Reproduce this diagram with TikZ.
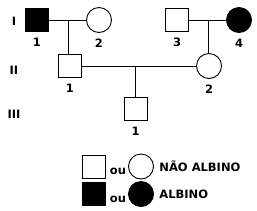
\documentclass[tikz,border=0pt]{standalone}
\usepackage{fontspec}
\setmainfont{DejaVu Sans}
\usetikzlibrary{calc}
\tikzset{
  male/.style={draw,rectangle,minimum size=23pt,inner sep=0pt},
  female/.style={draw,circle,minimum size=25pt,inner sep=0pt},
  ill/.style={fill=black},
  num/.style={label={[label distance=2.5pt]below:#1}}
}
\begin{document}
\begin{tikzpicture}[x=1pt,y=-1pt,line width=0.9pt,
    font=\fontsize{11.5}{13}\selectfont\bfseries]
   \useasboundingbox (0,0) rectangle (257,210);
   % generation I
   \node[male,ill,num=1]   (i1) at (37,20) {};
   \node[female,num=2]     (i2) at (99,20) {};
   \node[male,num=3]       (i3) at (177,20) {};
   \node[female,ill,num=4] (i4) at (239,20) {};
   % generation II
   \node[male,num=1]   (ii1) at (70,66) {};
   \node[female,num=2] (ii2) at (209,66) {};
   % generation III
   \node[male,num=1] (iii1) at (135.5,109) {};
   % couples and descents
   \coordinate (m1) at ($(i1)!0.5!(i2)$);
   \coordinate (m2) at ($(i3)!0.5!(i4)$);
   \coordinate (m3) at (iii1 |- ii1);
   \draw (i1) -- (i2);
   \draw (i3) -- (i4);
   \draw (ii1) -- (ii2);
   \draw (m1) -- (m1 |- ii1.north);
   \draw (m2) -- (m2 |- ii2.north);
   \draw (m3) -- (iii1.north);
   % generation numbers
   \foreach \y/\g in {21/I,70/II,114/III}
     \node (g\g) at (14,\y) {\g};
   % legend
   \node[male]           (lm) at (93.5,166.5) {};
   \node[female]         (lf) at (141,166.5) {};
   \node[male,ill]       (am) at (93.5,194) {};
   \node[female,ill]     (af) at (141,194) {};
   \node (ou1) at (118,171) {ou};
   \node (ou2) at (118,199) {ou};
   \node[anchor=west,inner sep=0pt] (tn) at (159,166) {NÃO ALBINO};
   \node[anchor=west,inner sep=0pt] (ta) at (159,194) {ALBINO};
\end{tikzpicture}
\end{document}
